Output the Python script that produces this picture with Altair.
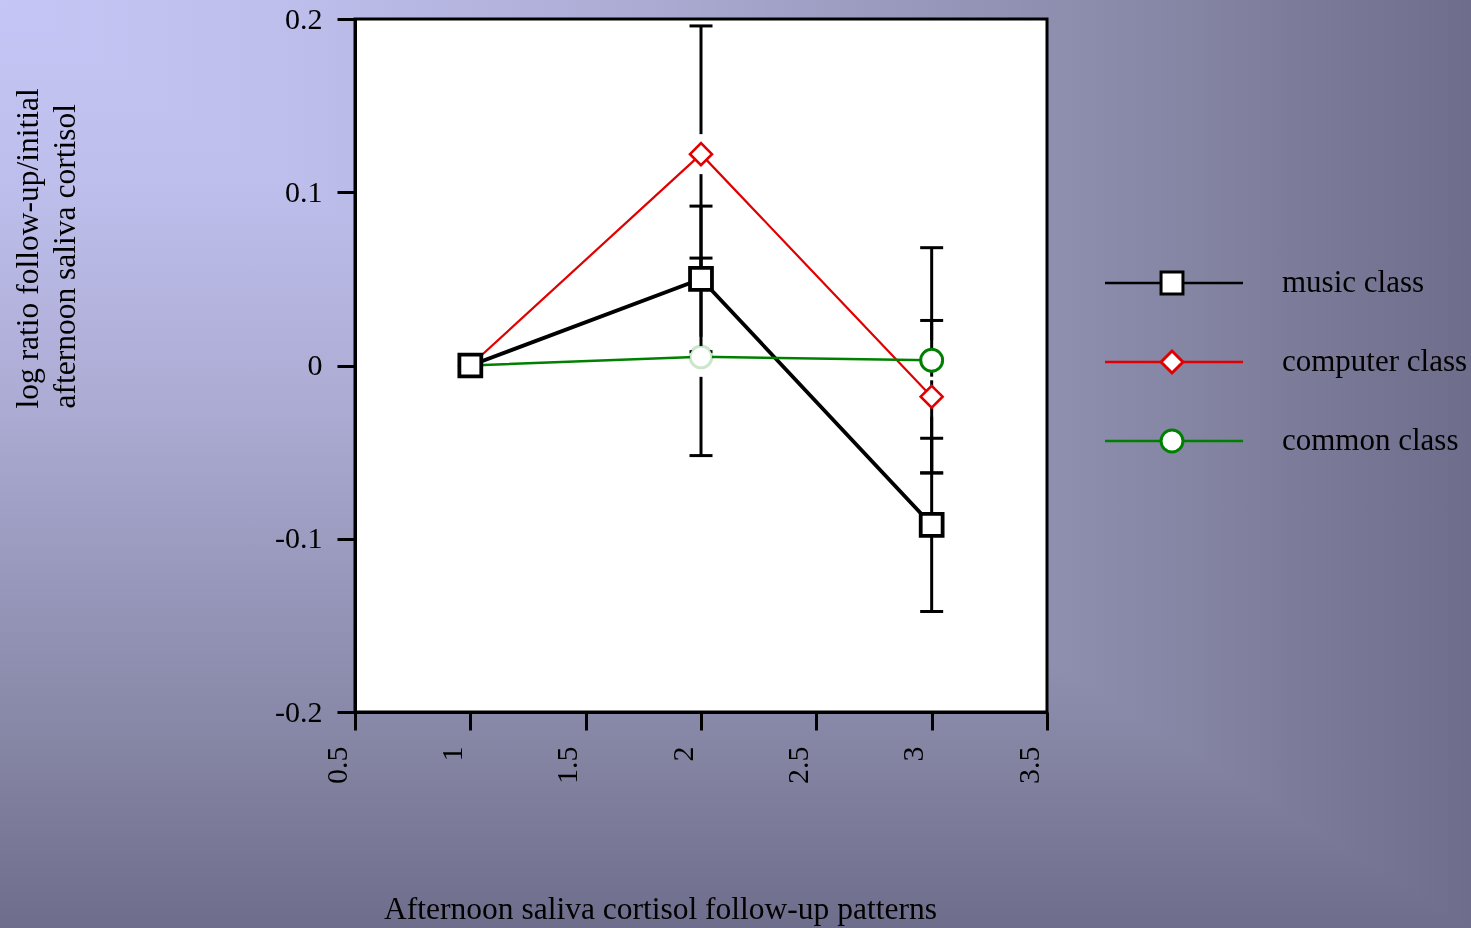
import altair as alt
import pandas as pd

# ---- data -------------------------------------------------------------
series_names = ["music class", "computer class", "common class"]
series_colors = ["#000000", "#e00000", "#008000"]
series_shapes = ["square", "diamond", "circle"]
legend_rows = [0, 1, 2]

patterns = [1, 2, 3]
music_mean = [0.0, 0.050, -0.092]
music_err = [0.0, 0.042, 0.050]
computer_mean = [0.0, 0.122, -0.018]
computer_err = [0.0, 0.074, 0.044]
common_mean = [0.0, 0.005, 0.003]
common_err = [0.0, 0.057, 0.065]

x_ticks = [0.5, 1, 1.5, 2, 2.5, 3, 3.5]
y_ticks = [-0.2, -0.1, 0, 0.1, 0.2]

x_title = "Afternoon saliva cortisol follow-up patterns"
y_title = ["log ratio follow-up/initial", "afternoon saliva cortisol"]

rows = []
for name, means, errs in [
    (series_names[0], music_mean, music_err),
    (series_names[1], computer_mean, computer_err),
    (series_names[2], common_mean, common_err),
]:
    for x, m, e in zip(patterns, means, errs):
        rows.append({"series": name, "x": x, "mean": m, "err": e})
df = pd.DataFrame(rows)
legend_df = pd.DataFrame({"series": series_names, "row": legend_rows})

# ---- layout -----------------------------------------------------------
CANVAS_W, CANVAS_H = 1471, 928
W, H = 692, 693
PAD = {"left": 355, "top": 19, "right": CANVAS_W - 355 - W, "bottom": CANVAS_H - 19 - H}
FONT = "Liberation Serif"
FS = 30
TITLE_FS = 31.5
# clearance (in data units) left open around the round and diamond markers
GAP = 20 * (0.4 / H)
MARK_SIZE = 480
LINE_WIDTHS = {"music class": 3.8, "computer class": 2.2, "common class": 2.5}
MARK_STROKES = {"music class": 3.8, "computer class": 2.6, "common class": 3.0}

x_scale = alt.Scale(domain=[0.5, 3.5], nice=False, zero=False)
y_scale = alt.Scale(domain=[-0.2, 0.2], nice=False, zero=False)

x_axis = alt.Axis(
    values=x_ticks, title=x_title, labelExpr="format(datum.value, '~g')",
    labelAngle=270, labelAlign="right", labelBaseline="alphabetic",
    labelOffset=-9, labelPadding=16, labelFlush=False, zindex=1,
    titleX=305, titleY=206, titleAlign="center", titleBaseline="alphabetic",
    titleAngle=0,
)
y_axis = alt.Axis(
    values=y_ticks, title=y_title,
    labelExpr="replace(format(datum.value, '~g'), '\u2212', '-')",
    labelPadding=15, labelFlush=False, zindex=1,
    titleAngle=270, titleAlign="left", titleBaseline="alphabetic",
    titleX=-318, titleY=389, titleLineHeight=37.5,
)

stroke_enc = alt.Stroke("series:N", scale=alt.Scale(domain=series_names, range=series_colors), legend=None)
shape_enc = alt.Shape("series:N", scale=alt.Scale(domain=series_names, range=series_shapes), legend=None)

one = pd.DataFrame({"k": [0]})

# backdrop: two linear ramps combined with a darken blend, so the tint
# follows whichever of the horizontal / vertical ramps is darker
ramp = [
    alt.GradientStop(offset=0, color="#c6c6f6"),
    alt.GradientStop(offset=0.2, color="#bebeec"),
    alt.GradientStop(offset=0.45, color="#aaaad2"),
    alt.GradientStop(offset=0.7, color="#9090b2"),
    alt.GradientStop(offset=0.85, color="#80809e"),
    alt.GradientStop(offset=1, color="#6e6e8c"),
]
full = dict(
    x=alt.value(-PAD["left"]), x2=alt.value(W + PAD["right"]),
    y=alt.value(-PAD["top"]), y2=alt.value(H + PAD["bottom"]),
)
backdrop_h = alt.Chart(one).mark_rect(
    fill=alt.LinearGradient(gradient="linear", x1=0, y1=0, x2=1, y2=0, stops=ramp)
).encode(**full)
backdrop_v = alt.Chart(one).mark_rect(
    fill=alt.LinearGradient(gradient="linear", x1=0, y1=0, x2=0, y2=1, stops=ramp),
    blend="darken",
).encode(**full)

# white plotting box with a black frame
plot_box = alt.Chart(one).mark_rect(fill="white", stroke="black", strokeWidth=3).encode(
    x=alt.datum(0.5, scale=x_scale, axis=x_axis), x2=alt.datum(3.5),
    y=alt.datum(-0.2, scale=y_scale, axis=y_axis), y2=alt.datum(0.2),
)

err_base = alt.Chart(df).transform_filter("datum.err > 0").transform_calculate(
    hi="datum.mean + datum.err",
    lo="datum.mean - datum.err",
    gap=f"datum.series == 'music class' ? 0 : {GAP}",
).transform_calculate(
    up0="datum.mean + datum.gap",
    dn0="datum.mean - datum.gap",
)
X = alt.X("x:Q", scale=x_scale, axis=x_axis)

bar_up = err_base.mark_rule(color="black", strokeWidth=3).encode(
    x=X, y=alt.Y("hi:Q", scale=y_scale, axis=y_axis), y2="up0:Q")
bar_dn = err_base.mark_rule(color="black", strokeWidth=3).encode(
    x=X, y=alt.Y("dn0:Q", scale=y_scale, axis=y_axis), y2="lo:Q")
cap_hi = err_base.mark_tick(orient="horizontal", size=23, thickness=3, color="black", opacity=1).encode(
    x=X, y=alt.Y("hi:Q", scale=y_scale, axis=y_axis))
cap_lo = err_base.mark_tick(orient="horizontal", size=23, thickness=3, color="black", opacity=1).encode(
    x=X, y=alt.Y("lo:Q", scale=y_scale, axis=y_axis))


def series_line(name):
    return alt.Chart(df).transform_filter(alt.datum.series == name).mark_line(
        strokeWidth=LINE_WIDTHS[name]
    ).encode(
        x=X, y=alt.Y("mean:Q", scale=y_scale, axis=y_axis),
        stroke=stroke_enc, order="x:Q",
    )


def series_points(name):
    return alt.Chart(df).transform_filter(alt.datum.series == name).mark_point(
        filled=True, fill="white", size=MARK_SIZE, strokeWidth=MARK_STROKES[name],
        opacity=1, fillOpacity=1,
    ).encode(
        x=X, y=alt.Y("mean:Q", scale=y_scale, axis=y_axis),
        stroke=stroke_enc, shape=shape_enc,
        strokeOpacity=alt.condition(
            "datum.series == 'common class' && datum.x == 2", alt.value(0.2), alt.value(1.0)
        ),
    )


draw_order = [series_names[2], series_names[1], series_names[0]]
lines = [series_line(n) for n in series_names]
points = [series_points(n) for n in draw_order]

main = alt.layer(backdrop_h, backdrop_v, plot_box, bar_up, bar_dn, cap_hi, cap_lo, *lines, *points)

# key at the right, one row per class
leg_y = alt.Y("row:Q", scale=alt.Scale(domain=[0, 2], range=[264, 422], nice=False, zero=False), axis=None)
leg_rule = alt.Chart(legend_df).mark_rule(strokeWidth=2.5).encode(
    x=alt.value(750), x2=alt.value(888), y=leg_y, stroke=stroke_enc)
leg_pts = alt.Chart(legend_df).mark_point(filled=True, fill="white", size=MARK_SIZE, strokeWidth=3, opacity=1).encode(
    x=alt.value(817), y=leg_y, stroke=stroke_enc, shape=shape_enc)
leg_text = alt.Chart(legend_df).mark_text(
    align="left", baseline="middle", font=FONT, fontSize=31, color="black"
).encode(x=alt.value(927), y=leg_y, text="series:N")
key = alt.layer(leg_rule, leg_pts, leg_text)

chart = alt.layer(main, key).resolve_scale(y="independent").properties(
    width=W, height=H,
    autosize=alt.AutoSizeParams(type="none"),
    padding=PAD,
).configure(
    background="#6e6e8c",
).configure_view(
    stroke=None,
).configure_axis(
    grid=False,
    domainColor="black", domainWidth=3,
    tickColor="black", tickWidth=3, tickSize=18,
    labelFont=FONT, labelFontSize=FS, labelColor="black",
    titleFont=FONT, titleFontSize=TITLE_FS, titleColor="black", titleFontWeight="normal",
)

chart.save("out.html", embed_options={"renderer": "svg", "actions": False})
